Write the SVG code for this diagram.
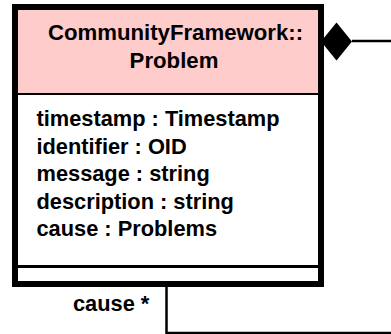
<svg xmlns="http://www.w3.org/2000/svg" width="391" height="334" viewBox="0 0 391 334">
  <style>
    .t { font-family: "Liberation Sans", Arial, sans-serif; font-weight: bold; font-size: 21.8px; fill: #000; }
    .h { font-size: 22.2px; }
    .edge { fill: none; stroke: #000; stroke-width: 2.5; }
  </style>
  <rect width="391" height="334" fill="#fff"/>

  <!-- class node -->
  <g id="problem">
    <rect x="15" y="7" width="306" height="277" fill="#fff"/>
    <rect x="15" y="7" width="306" height="87" fill="#ffcccc"/>
    <line x1="15" y1="94" x2="321" y2="94" stroke="#000" stroke-width="2"/>
    <line x1="15" y1="266.5" x2="321" y2="266.5" stroke="#000" stroke-width="3"/>
    <rect x="15" y="7" width="306" height="277" fill="none" stroke="#000" stroke-width="6"/>
    <text class="t h" x="175.5" y="40" text-anchor="middle">CommunityFramework::</text>
    <text class="t h" x="174" y="67.5" text-anchor="middle">Problem</text>
    <text class="t" x="36.5" y="126">timestamp : Timestamp</text>
    <text class="t" x="36.5" y="153.5">identifier : OID</text>
    <text class="t" x="36.5" y="181">message : string</text>
    <text class="t" x="36.5" y="208.5">description : string</text>
    <text class="t" x="36.5" y="236">cause : Problems</text>
  </g>

  <!-- self-association (composition) -->
  <g id="connectors">
    <path class="edge" d="M352,41 H396 V333 H166.5 V287"/>
    <polygon points="321,41.5 336.5,22.5 352,41.5 336.5,60.5" fill="#000"/>
    <text class="t" x="73" y="311">cause *</text>
  </g>
</svg>
